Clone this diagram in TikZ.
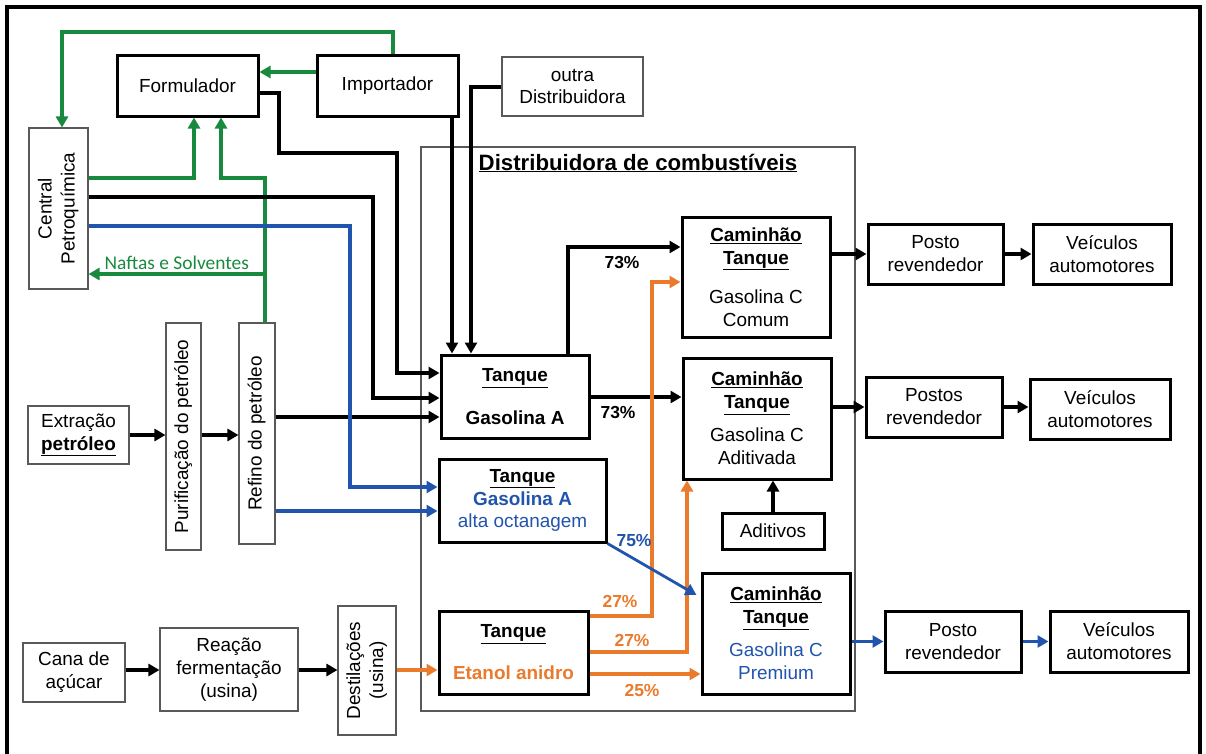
\documentclass[tikz,border=0pt]{standalone}
\usepackage{fontspec}
\setmainfont{Liberation Sans}
\newfontfamily\calibri{Carlito}
\usetikzlibrary{positioning}
\usetikzlibrary{arrows.meta}

\definecolor{petgreen}{RGB}{24,138,62}
\definecolor{octblue}{RGB}{33,84,172}
\definecolor{etorange}{RGB}{234,122,44}

\newcommand{\undb}[1]{\underline{\textbf{#1}}}
\newcommand{\vlines}[1]{\rotatebox{90}{\begin{tabular}{@{}c@{}}#1\end{tabular}}}

\tikzset{
    box/.style={draw, line width=3bp, inner sep=0pt, align=center},
    lbox/.style={draw=black!65, line width=1.1bp, inner sep=0pt, align=center},
    wh/.style 2 args={minimum width=#1bp, minimum height=#2bp},
    flow/.style={line width=3.6bp, -{Triangle[length=11bp,width=12bp]}},
    grn/.style={flow, color=petgreen},
    blu/.style={flow, color=octblue},
    org/.style={flow, color=etorange},
    pct/.style={font=\fontsize{17.5}{20}\selectfont\bfseries},
}

\begin{document}
\begin{tikzpicture}[x=1bp, y=-1bp, font=\fontsize{19}{23}\selectfont]
    \useasboundingbox (0,0) rectangle (1206,754);
    \draw [line width=3.5bp] (7,754) -- (7,7) -- (1200,7) -- (1200,754);

    % distribuidora
    \path (638,429) node [lbox, wh={434}{564}] (dist) {};
    \path (638,163) node [font=\fontsize{22.3}{26}\selectfont\bfseries] (title)
        {\underline{Distribuidora de combustíveis}};

    % fontes
    \path (187.5,86) node [box, wh={141}{60}] (form) {Formulador};
    \path (387.5,86) node [box, wh={141}{60}] (imp) {Importador};
    \path (572.5,86.5) node [lbox, wh={141}{59}] (outra) {outra\\Distribuidora};
    \path (58.5,208.5) node [lbox, wh={59}{161}] (central) {\vlines{Central\\Petroquímica}};
    \path (78.5,435) node [lbox, wh={101}{58}] (extr) {Extração\\\undb{petróleo}};
    \path (183.5,436.5) node [lbox, wh={35}{227}] (puri) {\vlines{Purificação do petróleo}};
    \path (257,433.5) node [lbox, wh={36}{221}] (refino) {\vlines{Refino do petróleo}};
    \path (74,672.5) node [lbox, wh={102}{59}] (cana) {Cana de\\açúcar};
    \path (229,669.5) node [lbox, wh={138}{83}] (reacao) {Reação\\fermentação\\(usina)};
    \path (367,670.5) node [lbox, wh={58}{129}] (destil) {\vlines{Destilações\\(usina)}};

    % tanques
    \path (515,396.5) node [box, wh={148}{83}] (tqA) {\undb{Tanque}\\[20bp]\textbf{Gasolina A}};
    \path (522.5,500.5) node [box, wh={167}{83}] (tqAO) {\undb{Tanque}\\
        \textcolor{octblue}{\textbf{Gasolina A}}\\\textcolor{octblue}{alta octanagem}};
    \path (513.5,652.5) node [box, wh={149}{83}] (tqE) {\undb{Tanque}\\[19bp]
        \textcolor{etorange}{\textbf{Etanol anidro}}};

    % caminhoes
    \path (756,277) node [box, wh={148}{120}] (camC) {\undb{Caminhão}\\\undb{Tanque}\\[16bp]Gasolina C\\Comum};
    \path (757,418.5) node [box, wh={148}{121}] (camAd) {\undb{Caminhão}\\\undb{Tanque}\\[10bp]Gasolina C\\Aditivada};
    \path (773,531) node [box, wh={102}{36}] (adit) {Aditivos};
    \path (776,633.5) node [box, wh={148}{121}] (camP) {\undb{Caminhão}\\\undb{Tanque}\\[10bp]
        \textcolor{octblue}{Gasolina C}\\\textcolor{octblue}{Premium}};

    % postos e veiculos
    \path (935.5,254) node [box, wh={135}{60}] (posto1) {Posto\\revendedor};
    \path (1102,254) node [box, wh={138}{60}] (veic1) {Veículos\\automotores};
    \path (934,407) node [box, wh={136}{60}] (posto2) {Postos\\revendedor};
    \path (1100,409) node [box, wh={140}{60}] (veic2) {Veículos\\automotores};
    \path (953,641.5) node [box, wh={136}{61}] (posto3) {Posto\\revendedor};
    \path (1119,641.5) node [box, wh={138}{61}] (veic3) {Veículos\\automotores};

    % verde
    \draw [grn] (imp.north -| 393,0) |- (62,32) -- (central.north -| 62,0);
    \draw [grn] (imp.west |- 0,72) -- (form.east |- 0,72);
    \draw [grn] (central.east |- 0,178) -| (form.south -| 194,0);
    \draw [grn] (refino.north -| 265,0) |- (221,178) -- (form.south -| 221,0);
    \coordinate (nafta) at (265,274);
    \draw [grn] (nafta) -- (central.east |- nafta)
        node [midway, above=-1bp, text=petgreen, font=\calibri\fontsize{19.5}{22}\selectfont] {Naftas e Solventes};

    % entradas do tanque A
    \draw [flow] (form.east |- 0,93) -| (279,153) -| (397,373) -- (tqA.west |- 0,373);
    \draw [flow] (central.east |- 0,197) -| (373,398) -- (tqA.west |- 0,398);
    \draw [flow] (refino.east |- 0,417) -- (tqA.west |- 0,417);
    \draw [flow] (imp.south -| 452,0) -- (tqA.north -| 452,0);
    \draw [flow] (outra.west |- 0,87) -| (tqA.north -| 471,0);

    % entradas alta octanagem
    \draw [blu] (central.east |- 0,226) -| (350,487) -- (tqAO.west |- 0,487);
    \draw [blu] (refino.east |- 0,511) -- (tqAO.west |- 0,511);

    % petroleo e etanol
    \draw [flow] (extr.east) -- (puri.west |- extr.east);
    \draw [flow] (puri.east |- extr.east) -- (refino.west |- extr.east);
    \draw [flow] (cana.east |- 0,670) -- (reacao.west |- 0,670);
    \draw [flow] (reacao.east |- 0,670) -- (destil.west |- 0,670);
    \draw [org] (destil.east |- 0,670) -- (tqE.west |- 0,670);

    % misturas
    \draw [flow] (tqA.north -| 568,0) |- (camC.west |- 0,247);
    \path (622,263) node [pct] (p1) {73\%};
    \draw [flow] (tqA.east |- 0,397) -- (camAd.west |- 0,397);
    \path (618,413) node [pct] (p2) {73\%};
    \draw [org] (tqE.east |- 0,616) -| (652,282) -- (camC.west |- 0,282);
    \path (620,601) node [pct, text=etorange] (p3) {27\%};
    \draw [org] (tqE.east |- 0,652) -| (camAd.south -| 687,0);
    \path (632,640) node [pct, text=etorange] (p4) {27\%};
    \draw [org] (tqE.east |- 0,674) -- (camP.west |- 0,674);
    \path (642,690) node [pct, text=etorange] (p5) {25\%};
    \draw [blu, line width=2.8bp] (tqAO.south east) -- ([xshift=-4bp]camP.west |- 0,595);
    \path (634,541) node [pct, text=octblue] (p6) {75\%};
    \draw [flow] (adit.north) -- (camAd.south -| adit.north);

    % saidas
    \draw [flow] (camC.east |- posto1.west) -- (posto1.west);
    \draw [flow] (posto1.east) -- (veic1.west |- posto1.east);
    \draw [flow] (camAd.east |- posto2.west) -- (posto2.west);
    \draw [flow] (posto2.east) -- (veic2.west |- posto2.east);
    \draw [blu] (camP.east |- posto3.west) -- (posto3.west);
    \draw [blu] (posto3.east) -- (veic3.west |- posto3.east);
\end{tikzpicture}
\end{document}
